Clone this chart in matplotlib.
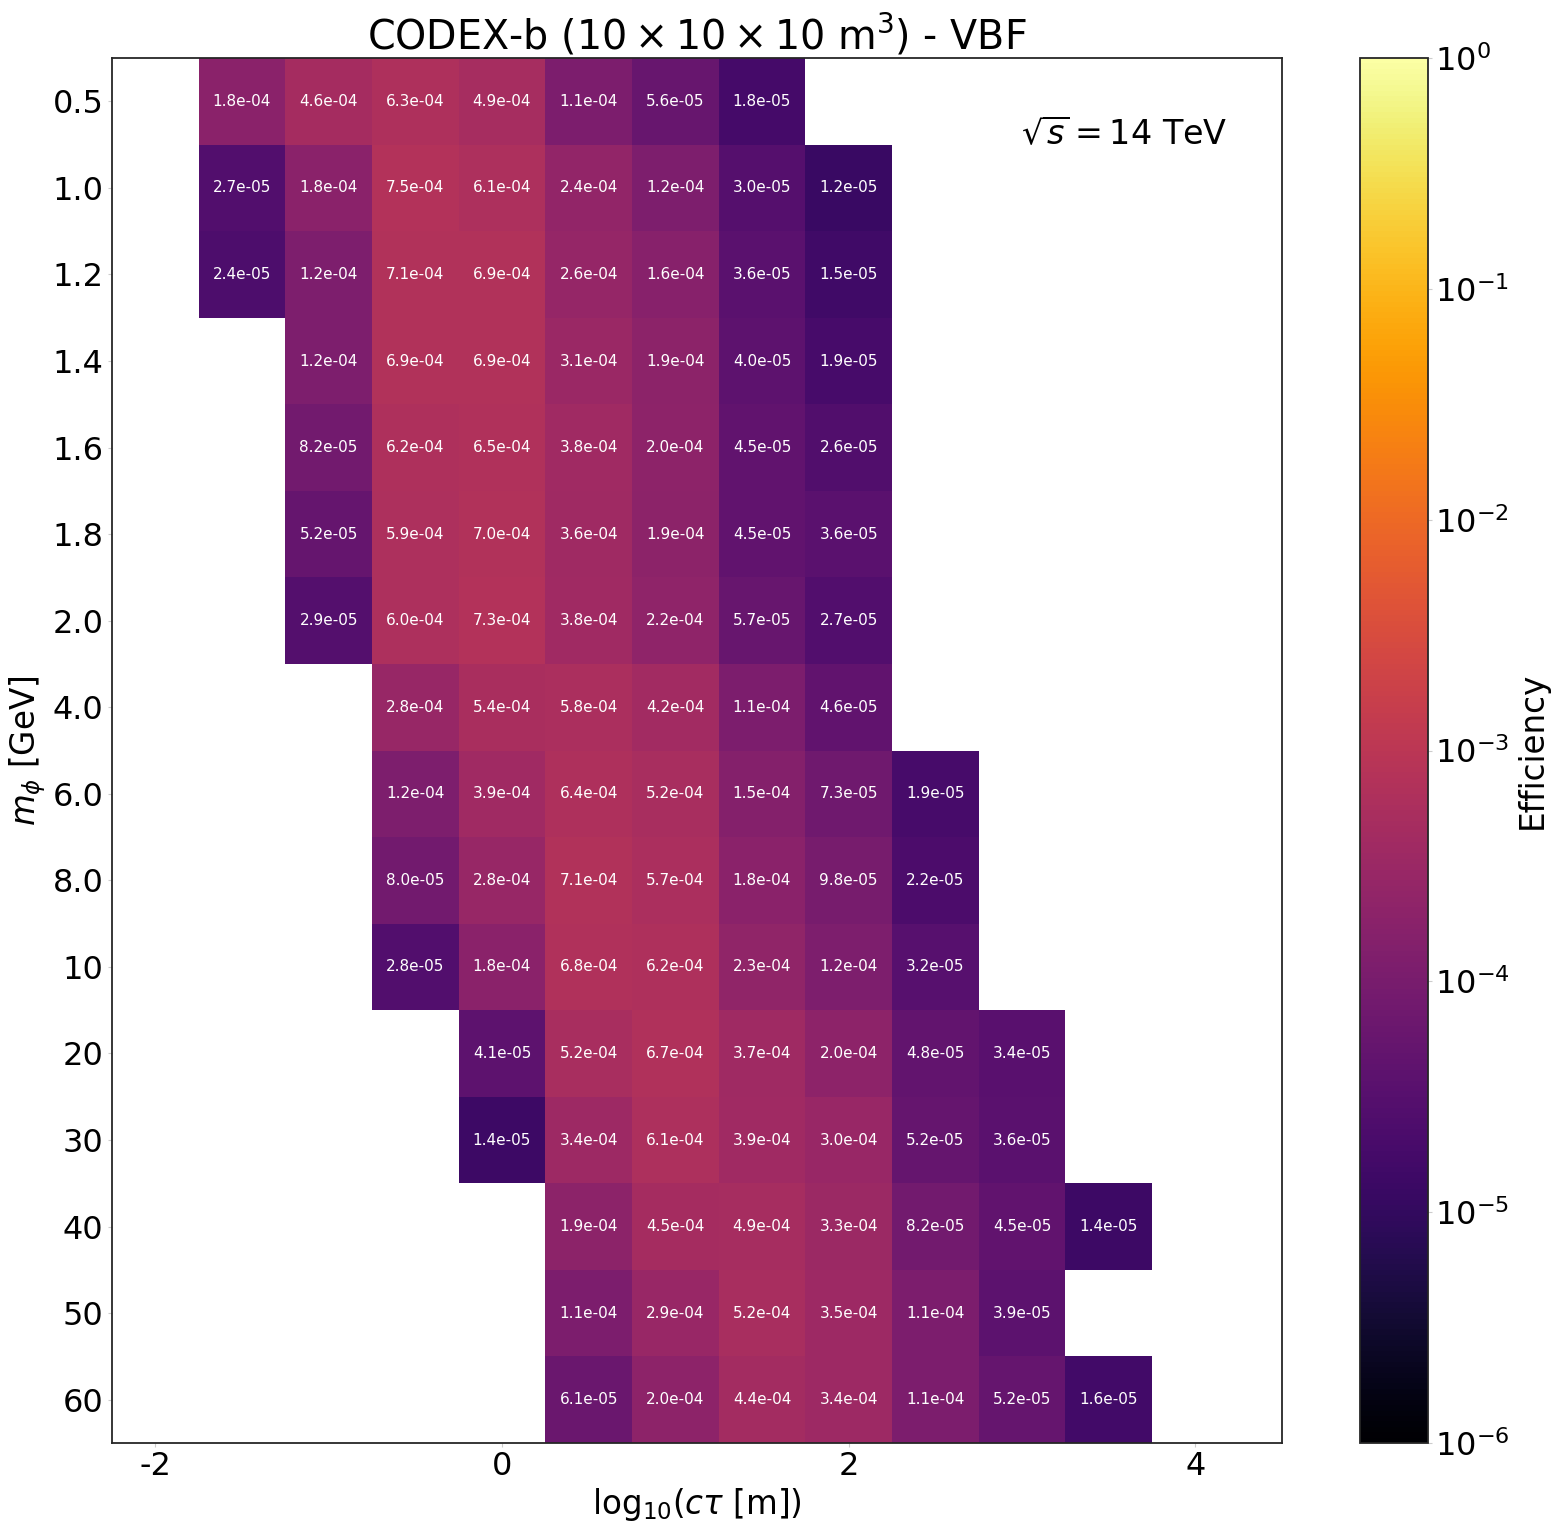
import numpy as np
import matplotlib
matplotlib.use("Agg")
import matplotlib.pyplot as plt
from matplotlib.colors import LogNorm

plt.rcParams["axes.unicode_minus"] = False

# mass points (rows) and lifetime grid (columns, log10 ctau [m])
masses = ["0.5", "1.0", "1.2", "1.4", "1.6", "1.8", "2.0", "4.0", "6.0",
          "8.0", "10", "20", "30", "40", "50", "60"]
log_ctau = [-1.5, -1.0, -0.5, 0.0, 0.5, 1.0, 1.5, 2.0, 2.5, 3.0, 3.5]

# log10(ctau) of first filled cell in each row
row_start = [-1.5, -1.5, -1.5, -1.0, -1.0, -1.0, -1.0, -0.5, -0.5,
             -0.5, -0.5, 0.0, 0.0, 0.5, 0.5, 0.5]

eff_05 = [1.8e-04, 4.6e-04, 6.3e-04, 4.9e-04, 1.1e-04, 5.6e-05, 1.8e-05]
eff_10 = [2.7e-05, 1.8e-04, 7.5e-04, 6.1e-04, 2.4e-04, 1.2e-04, 3.0e-05, 1.2e-05]
eff_12 = [2.4e-05, 1.2e-04, 7.1e-04, 6.9e-04, 2.6e-04, 1.6e-04, 3.6e-05, 1.5e-05]
eff_14 = [1.2e-04, 6.9e-04, 6.9e-04, 3.1e-04, 1.9e-04, 4.0e-05, 1.9e-05]
eff_16 = [8.2e-05, 6.2e-04, 6.5e-04, 3.8e-04, 2.0e-04, 4.5e-05, 2.6e-05]
eff_18 = [5.2e-05, 5.9e-04, 7.0e-04, 3.6e-04, 1.9e-04, 4.5e-05, 3.6e-05]
eff_20 = [2.9e-05, 6.0e-04, 7.3e-04, 3.8e-04, 2.2e-04, 5.7e-05, 2.7e-05]
eff_40 = [2.8e-04, 5.4e-04, 5.8e-04, 4.2e-04, 1.1e-04, 4.6e-05]
eff_60 = [1.2e-04, 3.9e-04, 6.4e-04, 5.2e-04, 1.5e-04, 7.3e-05, 1.9e-05]
eff_80 = [8.0e-05, 2.8e-04, 7.1e-04, 5.7e-04, 1.8e-04, 9.8e-05, 2.2e-05]
eff_100 = [2.8e-05, 1.8e-04, 6.8e-04, 6.2e-04, 2.3e-04, 1.2e-04, 3.2e-05]
eff_200 = [4.1e-05, 5.2e-04, 6.7e-04, 3.7e-04, 2.0e-04, 4.8e-05, 3.4e-05]
eff_300 = [1.4e-05, 3.4e-04, 6.1e-04, 3.9e-04, 3.0e-04, 5.2e-05, 3.6e-05]
eff_400 = [1.9e-04, 4.5e-04, 4.9e-04, 3.3e-04, 8.2e-05, 4.5e-05, 1.4e-05]
eff_500 = [1.1e-04, 2.9e-04, 5.2e-04, 3.5e-04, 1.1e-04, 3.9e-05]
eff_600 = [6.1e-05, 2.0e-04, 4.4e-04, 3.4e-04, 1.1e-04, 5.2e-05, 1.6e-05]

rows = [eff_05, eff_10, eff_12, eff_14, eff_16, eff_18, eff_20, eff_40, eff_60,
        eff_80, eff_100, eff_200, eff_300, eff_400, eff_500, eff_600]

# build the grid
grid = np.full((len(masses), len(log_ctau)), np.nan)
for i, (start, vals) in enumerate(zip(row_start, rows)):
    j0 = log_ctau.index(start)
    grid[i, j0:j0 + len(vals)] = vals
grid = np.ma.masked_invalid(grid)

step = log_ctau[1] - log_ctau[0]
x_edges = np.append(np.array(log_ctau) - step / 2, log_ctau[-1] + step / 2)
y_edges = np.arange(len(masses) + 1) - 0.5

fig = plt.figure(figsize=(15.57, 15.32), dpi=100)
ax = fig.add_axes([0.0719, 0.0581, 0.7515, 0.9040])
cax = fig.add_axes([0.8735, 0.0581, 0.0437, 0.9040])

norm = LogNorm(vmin=1e-6, vmax=1)
mesh = ax.pcolormesh(x_edges, y_edges, grid, cmap="inferno", norm=norm)

for i in range(len(masses)):
    for j in range(len(log_ctau)):
        if not np.ma.is_masked(grid[i, j]):
            ax.text(log_ctau[j], i, f"{grid[i, j]:.1e}", ha="center", va="center",
                    color="white", fontsize=11)

ax.set_xlim(-2.25, 4.5)
ax.set_ylim(len(masses) - 0.5, -0.5)
ax.set_yticks(range(len(masses)))
ax.set_yticklabels(masses)
ax.set_xticks([-2, 0, 2, 4])
ax.set_xticklabels(["-2", "0", "2", "4"])
ax.tick_params(labelsize=23, length=3, width=0.8, color="0.8", pad=3)
for s in ax.spines.values():
    s.set_color("0.15")
    s.set_linewidth(1.3)

ax.set_xlabel(r"$\mathrm{log}_{10}(c\tau$ [m])", fontsize=23.5, labelpad=3)
ax.set_ylabel(r"$m_{\phi}$ [GeV]", fontsize=23.5, labelpad=3)
ax.set_title(r"CODEX-b ($10 \times 10 \times 10$ m$^3$) - VBF", fontsize=28.5, pad=4)
ax.text(0.953, 0.945, r"$\sqrt{s} = 14$ TeV", transform=ax.transAxes,
        ha="right", va="center", fontsize=24)

cb = fig.colorbar(mesh, cax=cax)
cb.set_label("Efficiency", fontsize=23.5)
cb.ax.tick_params(labelsize=23, length=3, width=0.8, color="0.8", which="major", pad=2)
cb.ax.tick_params(which="minor", length=0)
cb.outline.set_edgecolor("0.15")
cb.outline.set_linewidth(1.3)

fig.savefig("out.png", dpi=100)
